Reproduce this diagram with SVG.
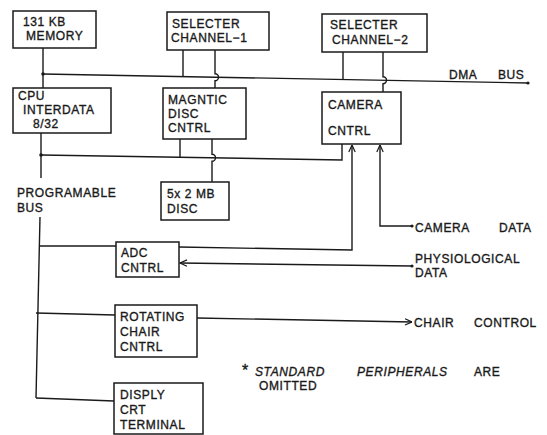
<svg xmlns="http://www.w3.org/2000/svg" width="547" height="435" viewBox="0 0 547 435">
<style>
  .bg{fill:#fff}
  .box{fill:#fff;stroke:#1a1a1a;stroke-width:1.5}
  .ln{fill:none;stroke:#1a1a1a;stroke-width:1.4}
  .dot{fill:#1a1a1a}
  text{font-family:"Liberation Sans",Arial,sans-serif;font-size:12px;letter-spacing:0.6px;fill:#1a1a1a;stroke:#1a1a1a;stroke-width:0.35}
  .it{font-style:italic}
  .ast{font-size:16px;letter-spacing:0}
</style>
<defs>
  <marker id="arr" viewBox="0 0 8 8" refX="7.5" refY="4" markerWidth="8" markerHeight="8" markerUnits="userSpaceOnUse" orient="auto">
    <path d="M0.5,0.8 L7.5,4 L0.5,7.2" fill="none" stroke="#1a1a1a" stroke-width="1.2"/>
  </marker>
</defs>
<rect class="bg" x="0" y="0" width="547" height="435"/>

<g id="connectors">
  <path class="ln" d="M43,48 V88"/>
  <circle class="dot" cx="43" cy="74" r="1.8"/>
  <path class="ln" d="M43,74 L528,83"/>
  <circle class="dot" cx="528" cy="83" r="1.6"/>
  <path class="ln" d="M183,50 V76.6"/>
  <path class="ln" d="M215,50 V73.7 a3.5,3.5 0 0 1 0,7 V88"/>
  <path class="ln" d="M343,52 V79.6"/>
  <path class="ln" d="M383,52 V76.8 a3.5,3.5 0 0 1 0,7 V92"/>
  <path class="ln" d="M41,133 V178"/>
  <circle class="dot" cx="41" cy="155" r="1.8"/>
  <path class="ln" d="M40,217 L36,398"/>
  <path class="ln" d="M41,155 L342,160 V144"/>
  <path class="ln" d="M180,139 V157.3"/>
  <path class="ln" d="M212,139 V154.3 a3.5,3.5 0 0 1 0,7 V182"/>
  <path class="ln" d="M39,246 L116,246"/>
  <path class="ln" d="M179,247 L352,250 V145" marker-end="url(#arr)"/>
  <path class="ln" d="M412,266 L180,263" marker-end="url(#arr)"/>
  <circle class="dot" cx="412" cy="266" r="1.6"/>
  <path class="ln" d="M412,226 H380 V145" marker-end="url(#arr)"/>
  <circle class="dot" cx="412" cy="226" r="1.6"/>
  <path class="ln" d="M36,313 L115,315"/>
  <path class="ln" d="M197,318 L412,322" marker-end="url(#arr)"/>
  <path class="ln" d="M36,398 L114,401"/>
</g>

<g id="memory">
  <rect class="box" x="13" y="11" width="83" height="37"/>
  <text x="23" y="26">131 KB</text>
  <text x="26" y="40">MEMORY</text>
</g>
<g id="selecter1">
  <rect class="box" x="167" y="12" width="102" height="38"/>
  <text x="172" y="28">SELECTER</text>
  <text x="171" y="42">CHANNEL−1</text>
</g>
<g id="selecter2">
  <rect class="box" x="322" y="14" width="105" height="38"/>
  <text x="330" y="29">SELECTER</text>
  <text x="332" y="44">CHANNEL−2</text>
</g>
<g id="cpu">
  <rect class="box" x="13" y="88" width="98" height="45"/>
  <text x="18" y="100">CPU</text>
  <text x="23" y="114">INTERDATA</text>
  <text x="33" y="128">8/32</text>
</g>
<g id="magnetic">
  <rect class="box" x="163" y="88" width="83" height="51"/>
  <text x="168" y="104">MAGNTIC</text>
  <text x="168" y="118">DISC</text>
  <text x="168" y="132">CNTRL</text>
</g>
<g id="camera">
  <rect class="box" x="322" y="92" width="79" height="52"/>
  <text x="328" y="109">CAMERA</text>
  <text x="328" y="135">CNTRL</text>
</g>
<g id="disc">
  <rect class="box" x="161" y="182" width="68" height="38"/>
  <text x="167" y="198">5x 2 MB</text>
  <text x="167" y="213">DISC</text>
</g>
<g id="adc">
  <rect class="box" x="116" y="242" width="63" height="35"/>
  <text x="121" y="257">ADC</text>
  <text x="121" y="272">CNTRL</text>
</g>
<g id="rotating">
  <rect class="box" x="115" y="305" width="82" height="52"/>
  <text x="120" y="321">ROTATING</text>
  <text x="120" y="336">CHAIR</text>
  <text x="120" y="351">CNTRL</text>
</g>
<g id="display">
  <rect class="box" x="114" y="383" width="89" height="51"/>
  <text x="120" y="399">DISPLY</text>
  <text x="120" y="414">CRT</text>
  <text x="120" y="429">TERMINAL</text>
</g>

<g id="labels">
  <text y="79"><tspan x="449">DMA</tspan><tspan x="498">BUS</tspan></text>
  <text x="17" y="197">PROGRAMABLE</text>
  <text x="17" y="212">BUS</text>
  <text y="232"><tspan x="415">CAMERA</tspan><tspan x="499">DATA</tspan></text>
  <text x="415" y="263">PHYSIOLOGICAL</text>
  <text x="415" y="277">DATA</text>
  <text y="327"><tspan x="414">CHAIR</tspan><tspan x="474">CONTROL</tspan></text>
  <text y="376"><tspan x="242" class="ast">*</tspan><tspan x="255" class="it">STANDARD</tspan><tspan x="357" class="it">PERIPHERALS</tspan><tspan x="474">ARE</tspan></text>
  <text x="259" y="390">OMITTED</text>
</g>
</svg>
